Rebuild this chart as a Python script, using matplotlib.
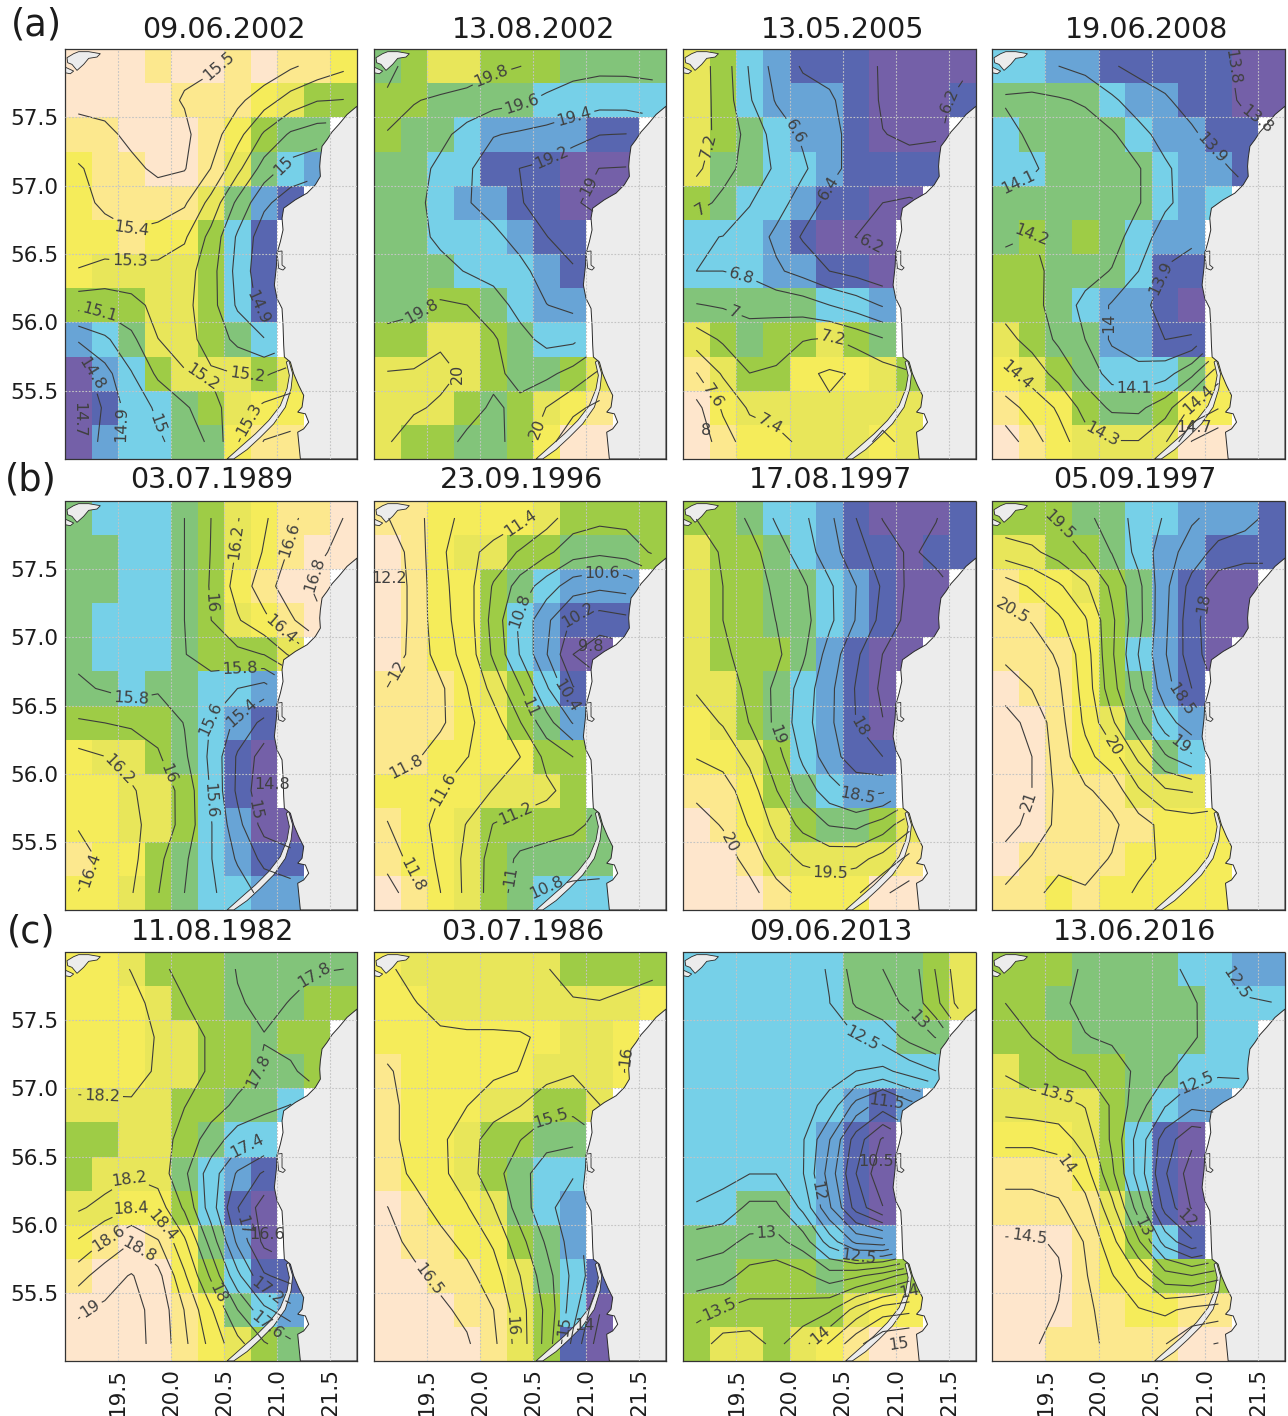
"""
Twelve SST panels over the SE Baltic coast, three rows (a), (b), (c).
Cell colours are classes read off the figure, contours run on the cell centres.

Output: out.png
"""
import warnings

import numpy as np
import matplotlib
matplotlib.use("Agg")
import matplotlib.pyplot as plt
from matplotlib.colors import BoundaryNorm, ListedColormap
from matplotlib.patches import Polygon

warnings.filterwarnings("ignore")

# ---- Data ----
TITLES = ["09.06.2002", "13.08.2002", "13.05.2005", "19.06.2008",
          "03.07.1989", "23.09.1996", "17.08.1997", "05.09.1997",
          "11.08.1982", "03.07.1986", "09.06.2013", "13.06.2016"]

# colour class per cell, north to south, "-" = no sea value
G_0 = ["00010010112", "00001112344", "1100012455-", "2110013567-", "211113578--", "22122468---",
       "23333468---", "44433468---", "76533456---", "976433343--", "986654322--", "976655211--"]
G_1 = ["54334445555", "44555566666", "4556777788-", "5566888999-", "5567788999-", "55666788---",
       "55566678---", "55445677---", "44334566---", "333345543--", "333454321--", "344554200--"]
G_2 = ["34678889999", "34677789998", "3456778999-", "3556678888-", "456678899--", "66678999---",
       "66677889---", "55555667---", "34544345---", "134422234--", "023333333--", "012233323--"]
G_3 = ["66778888899", "55556778899", "6555567788-", "6655556778-", "555555676--", "54545677---",
       "44555688---", "44567789---", "34557788---", "234566652--", "122455422--", "012333300--"]
G_4 = ["56665432110", "55665432100", "5566542100-", "5666543210-", "566654443--", "55655667---",
       "44445678---", "23345689---", "22334689---", "223346799--", "122456788--", "223456677--"]
G_5 = ["11222234444", "01233445554", "0122456777-", "0122467888-", "012246799--", "11123468---",
       "11122457---", "11222244---", "22223334---", "122344445--", "122345555--", "012345666--"]
G_6 = ["44566789998", "34456788988", "3445567899-", "3445567899-", "344457899--", "33456789---",
       "23456789---", "22346788---", "11245677---", "012345543--", "001333331--", "000122200--"]
G_7 = ["44455667778", "33445677888", "1223457899-", "1122457899-", "111246789--", "01124578---",
       "00123567---", "00122356---", "00111333---", "001111222--", "011112222--", "112122222--"]
G_8 = ["22344455555", "22234455544", "2223344544-", "2223344554-", "333344556--", "44334566---",
       "43335678---", "33224689---", "21012579---", "100024688--", "000012567--", "000012345--"]
G_9 = ["23333334444", "22333333332", "2222222332-", "1222223332-", "122233443--", "12234455---",
       "12234566---", "01223567---", "01122457---", "001123568--", "000113469--", "000013489--"]
G_10 = ["66666655543", "66666655543", "6666666655-", "6666666666-", "666666787--", "66666789---",
        "66666789---", "66556789---", "55555677---", "554445444--", "444444322--", "433432100--"]
G_11 = ["44455556677", "44555555666", "4445555566-", "3444455666-", "333345677--", "22234689---",
        "11124689---", "11113589---", "00012468---", "000122444--", "000112211--", "001111100--"]
CLASS_GRIDS = [G_0, G_1, G_2, G_3, G_4, G_5, G_6, G_7, G_8, G_9, G_10, G_11]

# temperature (deg C) that each colour class stands for, per panel
CLASS_TEMPS = [
    [15.55, 15.45, 15.35, 15.25, 15.15, 15.05, 14.97, 14.88, 14.78, 14.65],
    [20.40, 20.30, 20.20, 20.05, 19.85, 19.70, 19.50, 19.35, 19.15, 18.95],
    [8.05, 7.70, 7.50, 7.35, 7.15, 7.00, 6.75, 6.50, 6.30, 6.15],
    [14.75, 14.55, 14.45, 14.35, 14.25, 14.15, 14.03, 13.93, 13.85, 13.75],
    [16.85, 16.60, 16.35, 16.20, 16.00, 15.80, 15.60, 15.35, 15.10, 14.75],
    [12.25, 11.95, 11.60, 11.35, 11.10, 10.90, 10.70, 10.40, 10.10, 9.75],
    [20.20, 19.95, 19.70, 19.45, 19.20, 18.90, 18.60, 18.30, 18.00, 17.60],
    [21.10, 20.60, 20.20, 19.80, 19.50, 19.20, 18.85, 18.50, 18.10, 17.70],
    [19.05, 18.60, 18.35, 18.15, 17.95, 17.75, 17.45, 17.15, 16.85, 16.55],
    [16.60, 16.40, 16.10, 15.80, 15.55, 15.30, 15.00, 14.75, 14.50, 13.95],
    [15.20, 14.90, 14.50, 14.10, 13.50, 13.00, 12.40, 11.60, 11.00, 10.40],
    [14.60, 14.25, 13.95, 13.60, 13.25, 12.90, 12.55, 12.35, 12.00, 11.50],
]

# contour start, stop, step per panel
LEVEL_RANGES = [(14.7, 15.5, 0.1), (19.0, 20.2, 0.2), (6.2, 8.0, 0.2), (13.8, 14.7, 0.1),
                (14.8, 16.8, 0.2), (9.8, 12.2, 0.2), (17.75, 20.0, 0.25), (18.0, 21.0, 0.25),
                (16.6, 19.0, 0.2), (14.0, 16.5, 0.25), (10.5, 15.0, 0.25), (11.75, 14.5, 0.25)]

# contour labels: value, lon, lat
LABELS = [
    [(15.5, 20.67, 57.80), (15.4, 19.60, 56.60), (15.3, 19.60, 56.35), (15.1, 19.32, 55.99),
     (15.2, 20.23, 55.48), (15.2, 20.73, 55.71), (15, 21.01, 57.18), (14.8, 20.97, 56.79),
     (14.9, 20.79, 56.09), (14.9, 19.51, 55.26), (15, 19.87, 55.26), (14.7, 19.14, 55.29),
     (15.3, 20.76, 55.28)],
    [(19.8, 20.16, 57.72), (19.6, 20.40, 57.59), (19.4, 20.90, 57.46), (19.2, 20.67, 57.21),
     (19, 20.97, 57.02), (19.8, 19.35, 56.20), (20, 20.01, 55.73), (20, 20.51, 55.23)],
    [(6.2, 21.26, 57.75), (6.6, 20.24, 57.50), (7.2, 19.31, 57.28), (6.4, 20.49, 56.93),
     (7, 19.19, 56.80), (6.2, 20.71, 56.47), (6.8, 19.54, 56.31), (7, 19.49, 56.09),
     (7.2, 20.43, 55.93), (7.6, 19.33, 55.49), (7.4, 19.90, 55.40), (8, 19.22, 55.21)],
    [(13.8, 20.60, 57.79), (13.9, 20.97, 57.21), (14.1, 19.21, 57.09), (14.2, 19.35, 56.70),
     (13.9, 20.49, 56.35), (14, 20.05, 56.00), (13.8, 20.71, 55.98), (14.4, 19.35, 55.73),
     (14.1, 20.34, 55.54), (14.4, 20.86, 55.51), (14.3, 20.16, 55.33), (14.7, 20.90, 55.23)],
    [(16.2, 20.60, 57.70), (16.6, 21.06, 57.73), (16.8, 21.33, 57.47), (16, 20.37, 57.25),
     (16.4, 21.00, 57.03), (15.8, 20.65, 56.81), (15.6, 19.60, 56.74), (15.8, 19.60, 56.49),
     (15.4, 20.62, 56.50), (16.2, 19.47, 56.00), (16, 19.93, 55.99), (14.8, 20.95, 55.92),
     (15.6, 20.32, 55.80), (15, 20.75, 55.73), (16.4, 19.30, 55.27)],
    [(11.4, 20.42, 57.80), (10.6, 21.15, 57.47), (12.2, 19.14, 57.43), (10.8, 20.32, 57.21),
     (10.2, 20.90, 57.23), (9.8, 21.04, 56.93), (12, 19.25, 56.75), (10.4, 20.76, 56.54),
     (11, 20.43, 56.47), (11.8, 19.30, 56.05), (11.6, 19.76, 55.82), (11.2, 20.34, 55.71),
     (11.8, 19.41, 55.28), (10.8, 20.54, 55.29), (11, 20.20, 55.26)],
    [(19, 19.77, 56.26), (18, 20.49, 56.24), (18.5, 20.64, 55.82), (20, 19.43, 55.49),
     (19.5, 20.38, 55.28)],
    [(19.5, 19.58, 57.79), (20.5, 19.32, 57.36), (18, 20.94, 57.26), (18.5, 20.75, 56.53),
     (19, 20.77, 56.22), (20, 20.21, 56.24), (21, 19.54, 55.75)],
    [(17.8, 21.42, 57.77), (18.4, 19.35, 57.18), (17.8, 20.92, 57.06), (18.2, 19.35, 56.95),
     (17.4, 20.71, 56.59), (18.2, 19.60, 56.35), (17, 20.65, 55.99), (18.6, 19.35, 55.98),
     (16.6, 20.90, 55.93), (18.4, 20.01, 56.04), (18.8, 19.65, 55.77), (17.2, 20.90, 55.51),
     (18, 20.42, 55.49), (19, 19.24, 55.38), (17.6, 20.92, 55.28)],
    [(16, 21.48, 57.56), (15.5, 20.67, 56.76), (16.5, 19.69, 55.71), (16, 20.32, 55.26),
     (15, 20.73, 55.26), (14, 20.98, 55.26)],
    [(14, 21.51, 57.75), (13, 21.25, 57.53), (12.5, 20.67, 57.34), (11.5, 20.92, 56.91),
     (10.5, 20.81, 56.46), (12, 20.24, 56.24), (13, 19.79, 55.88), (12.5, 20.65, 55.77),
     (13.5, 19.35, 55.35), (14, 20.23, 55.25), (15, 20.78, 55.31)],
    [(12.5, 21.41, 57.83), (12.5, 20.93, 57.02), (13.5, 19.60, 56.93), (14, 19.74, 56.47),
     (12, 20.78, 56.00), (13, 20.43, 55.99), (14.5, 19.35, 55.93)],
]

X_TICKS = [19.5, 20.0, 20.5, 21.0, 21.5]
Y_TICKS = [55.5, 56.0, 56.5, 57.0, 57.5]

# ---- Base map, traced as (lon, lat) from pixel positions of the picture ----
COAST_PX = [(890, 185), (860, 210), (835, 240), (815, 262), (800, 285), (785, 305), (780, 340),
            (778, 365), (780, 395), (765, 420), (740, 445), (705, 465), (670, 490), (665, 520),
            (668, 555), (660, 590), (650, 625), (648, 665), (642, 720), (650, 760), (665, 790),
            (668, 840), (670, 900), (672, 935), (690, 950), (700, 985), (715, 1020), (730, 1050),
            (725, 1085), (712, 1100), (735, 1105), (745, 1130), (730, 1150), (712, 1160),
            (720, 1240), (890, 1240)]
SPIT_PX = [(685, 945), (697, 985), (692, 1030), (675, 1085), (640, 1135), (600, 1175), (560, 1212),
           (520, 1240), (500, 1240), (545, 1200), (585, 1165), (625, 1125), (660, 1080), (680, 1030),
           (687, 990), (678, 950)]
ISLAND_PX = [(20, 40), (40, 28), (55, 22), (85, 22), (120, 28), (110, 38), (85, 42), (70, 60),
             (50, 78), (35, 60), (22, 55)]
ISLET_PX = [(14, 68), (40, 80), (30, 88), (14, 85)]
LAKE_PX = [(650, 620), (665, 618), (665, 660), (675, 668), (668, 675), (655, 670), (652, 640)]

# ---- Style ----
CLASS_COLORS = ["#FEE6CC", "#FCE88E", "#F5EC5A", "#E8E65A", "#9ECC46",
                "#82C47A", "#76D0E8", "#68A4D6", "#5866B0", "#7460A8"]
LAND = "#ECECEC"
LINE = "#3c3c3c"
TEXT = "#1c1c1c"
GRID = "#c4c4c4"

FIG_W, FIG_H = 1288, 1416
COL_X = [(65, 357), (374, 666), (683, 976), (992, 1285)]
ROW_Y = [(49, 459), (501, 910), (952, 1361)]
TITLE_X = [[224, 534, 843, 1147], [212, 522, 831, 1135], [213, 523, 831, 1135]]
TITLE_Y = [30, 480, 932]
TAG_POS = [("(a)", 36, 25), ("(b)", 31, 480), ("(c)", 31, 932)]


def fig_xy(px, py):
    return px / FIG_W, 1 - py / FIG_H


def trace(points):
    return [(19 + (x - 14) / 318.5, 58 - (y - 14) / 408.7) for x, y in points]


def draw_base_map(ax):
    ax.add_patch(Polygon(trace(COAST_PX), closed=True, fc=LAND, ec="#2a2a2a", lw=0.7, zorder=1.5))
    for shape in (SPIT_PX, ISLAND_PX, ISLET_PX, LAKE_PX):
        ax.add_patch(Polygon(trace(shape), closed=True, fc=LAND, ec="#2a2a2a", lw=0.6, zorder=1.6))


def soften(field):
    """Light 1-3-1 pass over the class steps, ignoring cells without a value."""
    kernel = np.array([1.0, 3.0, 1.0])
    known = ~np.isnan(field)
    total = np.where(known, field, 0.0)
    weight = known.astype(float)
    for axis in (0, 1):
        total = np.apply_along_axis(np.convolve, axis, total, kernel, mode="same")
        weight = np.apply_along_axis(np.convolve, axis, weight, kernel, mode="same")
    out = np.full(field.shape, np.nan)
    out[known] = total[known] / weight[known]
    return out


def draw_panel(ax, grid, temps, level_range, labels):
    lon_edges = np.arange(12) * 0.25 + 19.0
    lat_edges = np.arange(13) * 0.25 + 55.0
    lon_mid = lon_edges[:-1] + 0.125
    lat_mid = lat_edges[:-1] + 0.125

    # rows are stored north first
    classes = np.array([[np.nan if c == "-" else float(c) for c in row] for row in grid[::-1]])
    cmap = ListedColormap(CLASS_COLORS)
    norm = BoundaryNorm(np.arange(11) - 0.5, 10)
    ax.pcolormesh(lon_edges, lat_edges, np.ma.masked_invalid(classes),
                  cmap=cmap, norm=norm, zorder=1)

    draw_base_map(ax)

    temps = np.array(temps)
    field = np.full(classes.shape, np.nan)
    ok = ~np.isnan(classes)
    field[ok] = temps[classes[ok].astype(int)]
    field = np.ma.masked_invalid(soften(field))

    ax.set_xlim(19.0, 21.75)
    ax.set_ylim(55.0, 58.0)

    start, stop, step = level_range
    levels = np.round(np.arange(start, stop + step / 2, step), 2)
    for lev in levels:
        cs = ax.contour(lon_mid, lat_mid, field, levels=[lev], colors=LINE,
                        linewidths=0.8, zorder=2)
        spots = [(x, y) for v, x, y in labels if abs(v - lev) < 1e-6]
        if not spots:
            continue
        try:
            ax.clabel(cs, fmt="%g", fontsize=11.5, colors="#404040", inline=True,
                      inline_spacing=3, manual=spots)
        except Exception:
            for x, y in spots:
                ax.text(x, y, f"{lev:g}", ha="center", va="center",
                        fontsize=11.5, color="#404040", zorder=3)
        ax.set_xlim(19.0, 21.75)
        ax.set_ylim(55.0, 58.0)


def main():
    fig = plt.figure(figsize=(FIG_W / 100, FIG_H / 100), dpi=100, facecolor="white")

    for idx, title in enumerate(TITLES):
        row, col = divmod(idx, 4)
        x0, x1 = COL_X[col]
        y0, y1 = ROW_Y[row]
        left, bottom = fig_xy(x0, y1)
        ax = fig.add_axes([left, bottom, (x1 - x0) / FIG_W, (y1 - y0) / FIG_H])

        draw_panel(ax, CLASS_GRIDS[idx], CLASS_TEMPS[idx], LEVEL_RANGES[idx], LABELS[idx])

        ax.set_xticks(X_TICKS)
        ax.set_yticks(Y_TICKS)
        ax.set_axisbelow(False)
        ax.grid(True, color=GRID, lw=0.8, ls=(0, (1.5, 1.5)))
        ax.tick_params(length=0, labelsize=15.5, labelcolor=TEXT, pad=5)
        ax.tick_params(axis="x", labelbottom=row == 2, labelrotation=90)
        ax.tick_params(axis="y", labelleft=col == 0)
        if row == 2:
            ax.set_xticklabels([f"{t:.1f}" for t in X_TICKS])
        if col == 0:
            ax.set_yticklabels([f"{t:.1f}" for t in Y_TICKS])
        for spine in ax.spines.values():
            spine.set_linewidth(0.9)
            spine.set_color("#333333")
            spine.set_linestyle((0, (1.5, 1)))

        tx, ty = fig_xy(TITLE_X[row][col], TITLE_Y[row])
        fig.text(tx, ty, title, ha="center", va="center", fontsize=20.5, color=TEXT)

    for tag, px, py in TAG_POS:
        tx, ty = fig_xy(px, py)
        fig.text(tx, ty, tag, ha="center", va="center", fontsize=26.5, color=TEXT)

    fig.savefig("out.png", dpi=100, facecolor="white")
    plt.close(fig)


if __name__ == "__main__":
    main()
